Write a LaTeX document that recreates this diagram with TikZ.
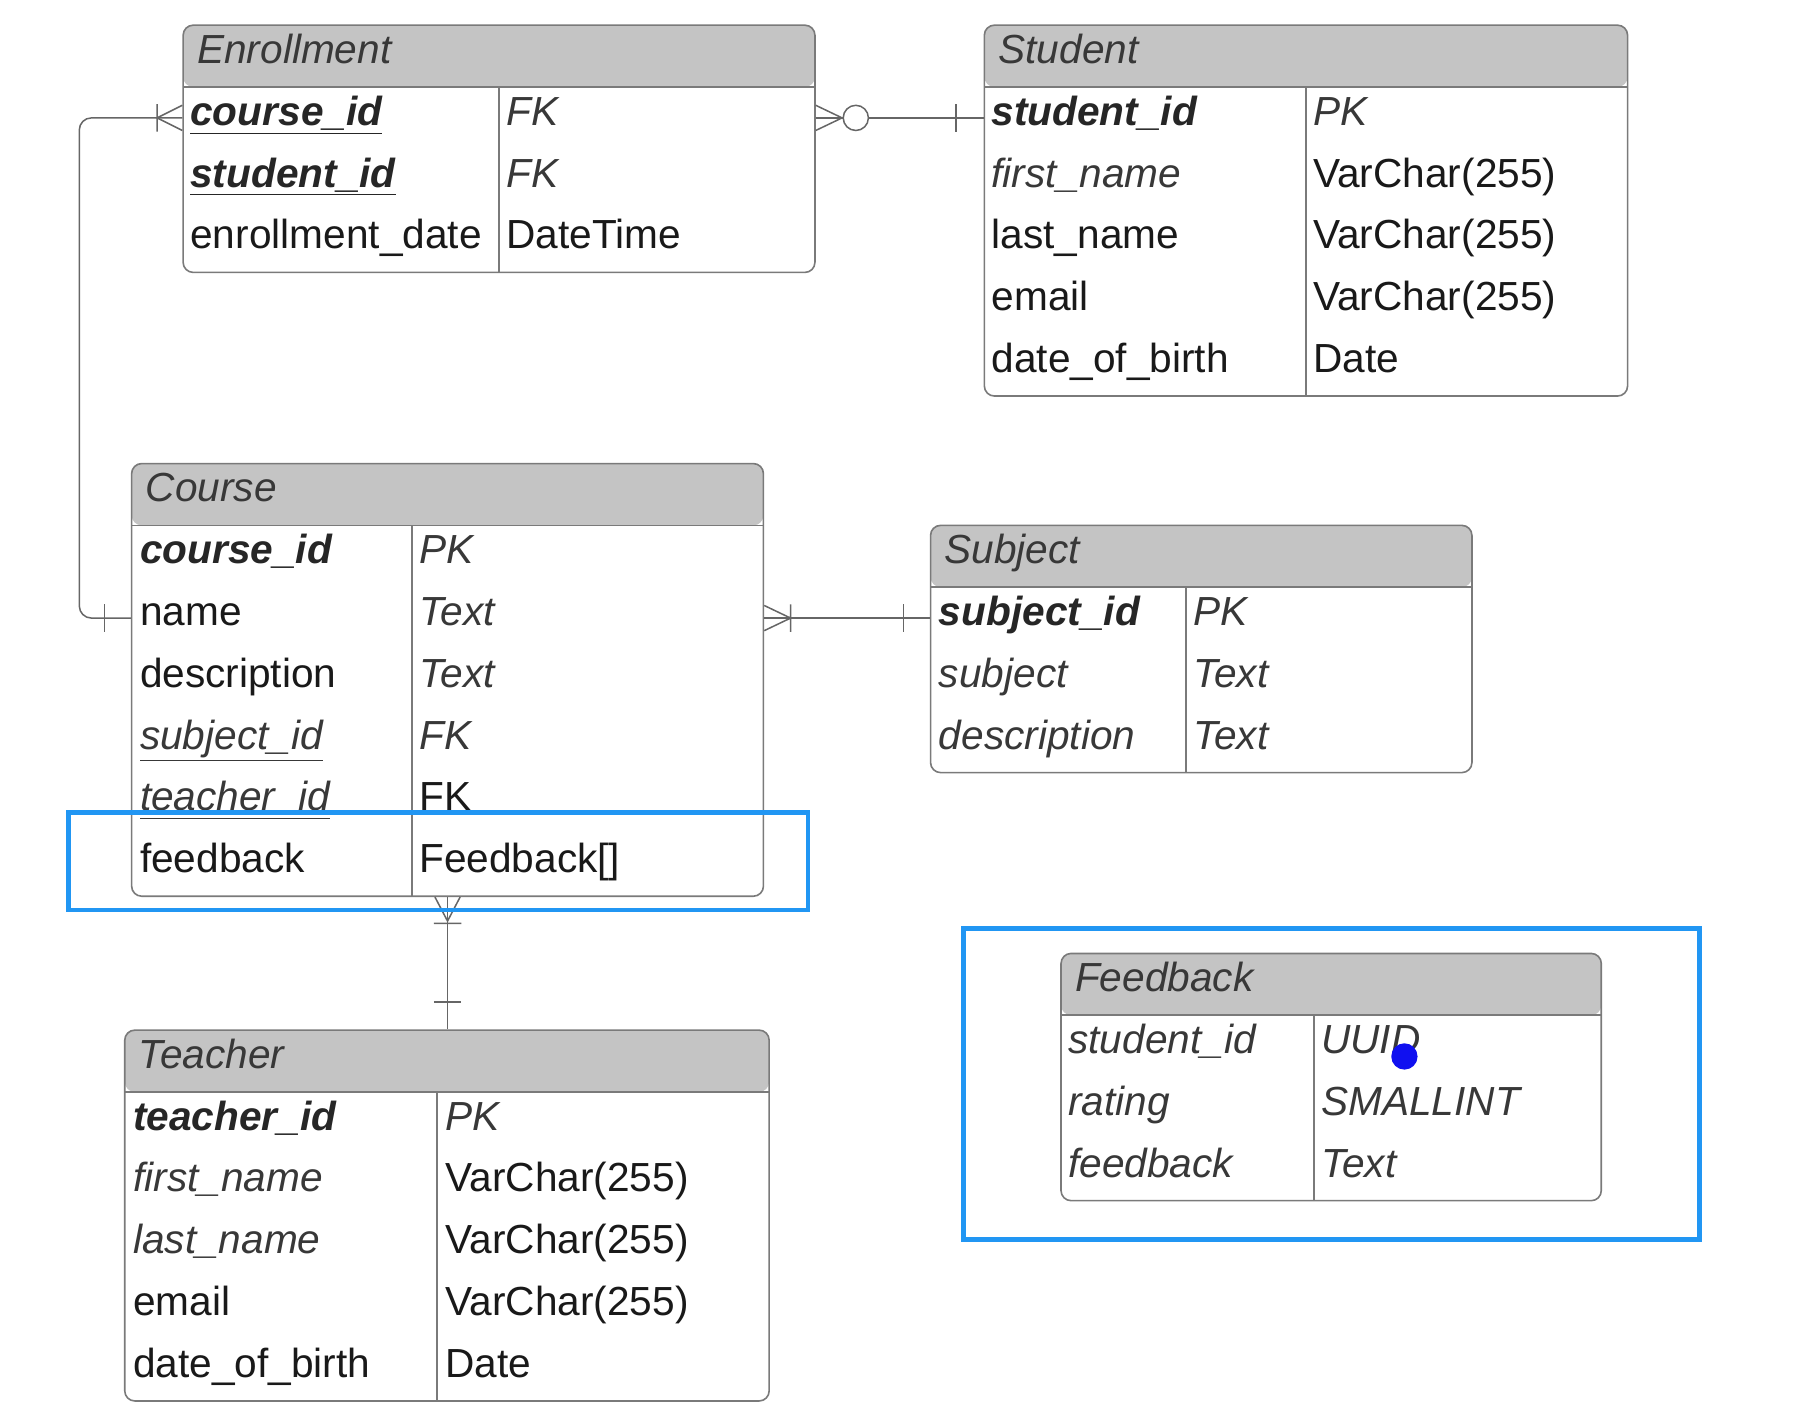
\documentclass[tikz,border=0pt]{standalone}
\usepackage{fontspec}
\setmainfont{Liberation Sans}
\usetikzlibrary{fit}

\definecolor{headfill}{HTML}{C4C4C4}
\definecolor{boxline}{HTML}{7A7A7A}
\definecolor{linkgray}{HTML}{666666}
\definecolor{textgray}{HTML}{383838}
\definecolor{markblue}{HTML}{2196F3}
\definecolor{dotblue}{HTML}{1010F0}

\begin{document}
\begin{tikzpicture}[x=0.02cm, y=-0.02cm]
    \tikzstyle{entity} = [draw=boxline, line width=0.8pt, rounded corners=5pt, inner sep=0pt, fill=white,
        path picture={\fill[headfill] (path picture bounding box.north west) rectangle ([yshift=-1.08cm]path picture bounding box.north east);
            \draw[boxline, line width=0.8pt] ([yshift=-1.08cm]path picture bounding box.north west) -- ([yshift=-1.08cm]path picture bounding box.north east);}]
    \tikzstyle{field} = [anchor=west, inner sep=0pt, text height=14.2pt, text depth=6.9pt, font=\fontsize{20.2}{24}\selectfont, text=black!90]
    \tikzstyle{ital} = [field, font=\fontsize{20.2}{24}\selectfont\itshape, text=textgray]
    \tikzstyle{key} = [field, font=\fontsize{20.2}{24}\selectfont\bfseries\itshape, text=black!85]
    \tikzstyle{sep} = [draw=boxline, line width=0.8pt]
    \tikzstyle{link} = [draw=linkgray, line width=0.75pt]
    \tikzstyle{hilite} = [draw=markblue, line width=2.3pt]

    \useasboundingbox (0,0) rectangle (1570,1244);

    % Enrollment table
    \node [entity, fit={(160,22) (712,238)}] (Enrollment) {};
    \draw [sep] (436,76) -- (436,238);
    \node [ital] (EnrTitle) at (172,49) {Enrollment};
    \node [key] (EnrCourse) at (166,103) {\underline{course\_id}};
    \node [ital] (EnrCourseType) at (442,103) {FK};
    \node [key] (EnrStudent) at (166,157) {\underline{student\_id}};
    \node [ital] (EnrStudentType) at (442,157) {FK};
    \node [field] (EnrDate) at (166,211) {enrollment\_date};
    \node [field] (EnrDateType) at (442,211) {DateTime};

    % Student table
    \node [entity, fit={(860,22) (1422,346)}] (Student) {};
    \draw [sep] (1141,76) -- (1141,346);
    \node [ital] (StuTitle) at (872,49) {Student};
    \node [key] (StuId) at (866,103) {student\_id};
    \node [ital] (StuIdType) at (1147,103) {PK};
    \node [ital] (StuFirst) at (866,157) {first\_name};
    \node [field] (StuFirstType) at (1147,157) {VarChar(255)};
    \node [field] (StuLast) at (866,211) {last\_name};
    \node [field] (StuLastType) at (1147,211) {VarChar(255)};
    \node [field] (StuMail) at (866,265) {email};
    \node [field] (StuMailType) at (1147,265) {VarChar(255)};
    \node [field] (StuBirth) at (866,319) {date\_of\_birth};
    \node [field] (StuBirthType) at (1147,319) {Date};

    % Course table
    \node [entity, fit={(115,405) (667,783)}] (Course) {};
    \draw [sep] (360,459) -- (360,783);
    \node [ital] (CrsTitle) at (127,432) {Course};
    \node [key] (CrsId) at (122,486) {course\_id};
    \node [ital] (CrsIdType) at (366,486) {PK};
    \node [field] (CrsName) at (122,540) {name};
    \node [ital] (CrsNameType) at (366,540) {Text};
    \node [field] (CrsDesc) at (122,594) {description};
    \node [ital] (CrsDescType) at (366,594) {Text};
    \node [ital] (CrsSubject) at (122,648) {\underline{subject\_id}};
    \node [ital] (CrsSubjectType) at (366,648) {FK};
    \node [ital] (CrsTeacher) at (122,702) {\underline{teacher\_id}};
    \node [field] (CrsTeacherType) at (366,702) {FK};
    \node [field] (CrsFeedback) at (122,756) {feedback};
    \node [field] (CrsFeedbackType) at (366,756) {Feedback[]};

    % Subject table
    \node [entity, fit={(813,459) (1286,675)}] (Subject) {};
    \draw [sep] (1036,513) -- (1036,675);
    \node [ital] (SubTitle) at (825,486) {Subject};
    \node [key] (SubId) at (820,540) {subject\_id};
    \node [ital] (SubIdType) at (1042,540) {PK};
    \node [ital] (SubName) at (820,594) {subject};
    \node [ital] (SubNameType) at (1042,594) {Text};
    \node [ital] (SubDesc) at (820,648) {description};
    \node [ital] (SubDescType) at (1042,648) {Text};

    % Teacher table
    \node [entity, fit={(109,900) (672,1224)}] (Teacher) {};
    \draw [sep] (382,954) -- (382,1224);
    \node [ital] (TchTitle) at (121,927) {Teacher};
    \node [key] (TchId) at (116,981) {teacher\_id};
    \node [ital] (TchIdType) at (389,981) {PK};
    \node [ital] (TchFirst) at (116,1035) {first\_name};
    \node [field] (TchFirstType) at (389,1035) {VarChar(255)};
    \node [ital] (TchLast) at (116,1089) {last\_name};
    \node [field] (TchLastType) at (389,1089) {VarChar(255)};
    \node [field] (TchMail) at (116,1143) {email};
    \node [field] (TchMailType) at (389,1143) {VarChar(255)};
    \node [field] (TchBirth) at (116,1197) {date\_of\_birth};
    \node [field] (TchBirthType) at (389,1197) {Date};

    % Feedback table
    \node [entity, fit={(927,833) (1399,1049)}] (Feedback) {};
    \draw [sep] (1148,887) -- (1148,1049);
    \node [ital] (FbTitle) at (939,860) {Feedback};
    \node [ital] (FbStudent) at (933,914) {student\_id};
    \node [ital] (FbStudentType) at (1154,914) {UUID};
    \node [ital] (FbRating) at (933,968) {rating};
    \node [ital] (FbRatingType) at (1154,968) {SMALLINT};
    \node [ital] (FbText) at (933,1022) {feedback};
    \node [ital] (FbTextType) at (1154,1022) {Text};

    % Enrollment to Course
    \draw [link, rounded corners=6pt] (Enrollment.west |- EnrCourse) -- ++(-90,0) |- (Course.west |- CrsName);
    \draw [link] (Enrollment.west |- EnrCourse) ++(0,-11) -- ++(-22,11) -- ++(22,11) ++(-22,-23) -- ++(0,24);
    \draw [link] (Course.west |- CrsName) ++(-23,-12) -- ++(0,24);

    % Enrollment to Student
    \draw [link] (Enrollment.east |- EnrCourse) -- (Student.west |- StuId);
    \draw [link] (Enrollment.east |- EnrCourse) ++(0,-11) -- ++(23,11) -- ++(-23,11);
    \draw [link, fill=white] (Enrollment.east |- EnrCourse) ++(35,0) circle [radius=0.22cm];
    \draw [link] (Student.west |- StuId) ++(-24,-12) -- ++(0,24);

    % Course to Subject
    \draw [link] (Course.east |- CrsName) -- (Subject.west |- SubId);
    \draw [link] (Course.east |- CrsName) ++(0,-11) -- ++(23,11) -- ++(-23,11) ++(23,-23) -- ++(0,24);
    \draw [link] (Subject.west |- SubId) ++(-23,-12) -- ++(0,24);

    % Course to Teacher
    \draw [link] (Course.south) -- (Course.south |- Teacher.north);
    \draw [link] (Course.south) ++(-11,0) -- ++(11,21) -- ++(11,-21) ++(-23,23) -- ++(24,0);
    \draw [link] (Course.south |- Teacher.north) ++(-12,-24) -- ++(24,0);

    % highlights
    \draw [hilite] (60,710) rectangle (706,795);
    \draw [hilite] (842,811) rectangle (1485,1083);
    \fill [dotblue] (1227,923) circle [radius=0.23cm];
\end{tikzpicture}
\end{document}
